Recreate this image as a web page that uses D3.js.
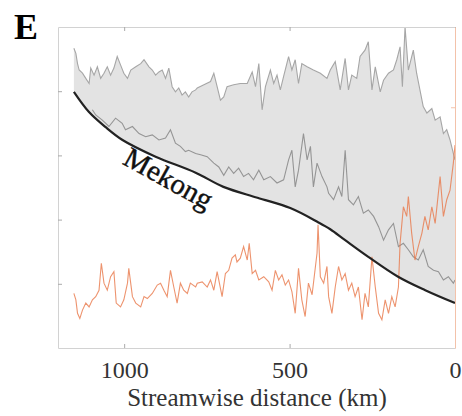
<!DOCTYPE html>
<html>
<head>
<meta charset="utf-8">
<script src="https://cdn.jsdelivr.net/npm/d3@7"></script>
<style>
  body { margin: 0; background: #fff; }
  text { font-family: "Liberation Serif", "DejaVu Serif", serif; }
</style>
</head>
<body>
<div id="chart"></div>
<script>
// streamwise distance (km) and values
const meanKm   = [1096,1086,1066,1046,1026,1006,996,975,955,935,915,895,875,860,845,830,815,805,784,769,749,729,714,699,684,669,654,639,624,609,593,578,558,538,518,503,493,483,473,458,447,437,428,417,402,387,382,367,352,342,332,322,307,292,277,262,246,231,216,201,186,171,156,141,126,111,96,81,65,50,35,20,5,0];
const meanVal  = [3.71,3.63,3.55,3.45,3.58,3.50,3.40,3.45,3.34,3.29,3.32,3.24,3.27,3.40,3.19,3.14,3.06,3.08,3.03,3.01,2.98,2.88,2.82,2.69,2.82,2.72,2.80,2.67,2.72,2.62,2.77,2.62,2.67,2.57,2.62,2.93,3.08,2.51,2.77,3.34,2.93,3.14,2.51,2.88,2.67,2.51,2.41,2.31,2.51,2.36,3.08,2.31,2.23,2.36,2.10,2.15,2.05,1.89,1.68,1.84,1.94,1.58,1.63,1.53,1.42,1.37,1.53,1.27,1.21,1.19,1.06,1.11,1.01,1.06];

const maxKm    = [1152,1146,1141,1136,1126,1116,1106,1101,1091,1081,1071,1061,1051,1041,1031,1021,1011,1001,990,980,965,950,940,925,915,905,895,885,875,865,855,845,835,825,815,805,795,784,779,759,739,729,719,709,699,689,669,649,628,613,603,593,583,573,558,548,538,528,518,503,493,483,473,463,447,428,407,387,377,362,347,332,322,312,297,287,272,262,251,241,226,216,201,186,176,166,159,151,141,126,116,106,96,85,70,60,45,35,25,15,5,0];
const maxVal   = [4.67,4.59,4.43,4.33,4.28,4.20,4.12,4.36,4.25,4.38,4.20,4.28,4.38,4.25,4.36,4.54,4.41,4.28,4.20,4.33,4.38,4.43,4.49,4.38,4.33,4.25,4.30,4.33,4.20,4.36,4.07,3.99,4.05,3.94,3.99,3.91,3.99,4.02,4.05,4.10,4.15,4.28,4.07,3.86,3.91,4.07,4.10,4.12,4.12,4.30,4.07,4.43,3.71,4.07,4.33,4.12,4.25,4.02,4.23,4.54,4.33,4.49,4.12,4.43,4.38,4.33,4.28,4.20,4.33,4.46,4.02,4.51,4.02,4.25,4.20,4.54,4.64,4.77,4.02,4.38,3.99,4.17,4.28,4.33,4.49,4.69,4.07,5.00,4.33,4.64,4.28,4.02,3.76,3.66,3.73,3.55,3.60,3.34,3.40,3.24,3.03,2.93];

const mekongKm  = [1152,1107,1056,1005,905,784,700,597,498,414,377,332,262,172,90,0];
const mekongVal = [3.99,3.68,3.44,3.24,2.98,2.73,2.51,2.34,2.18,1.96,1.85,1.68,1.42,1.11,0.90,0.70];

const orangeKm  = [1152,1146,1141,1134,1126,1116,1106,1096,1086,1076,1069,1061,1051,1041,1031,1024,1011,1001,990,986,975,965,950,940,930,915,900,890,880,870,860,850,840,830,820,809,800,784,779,764,749,739,729,719,704,694,684,674,664,659,649,639,628,622,613,603,593,578,563,553,543,533,523,513,503,493,483,473,463,453,443,432,417,414,407,397,387,382,372,362,352,342,332,322,312,302,292,281,272,262,251,241,231,221,211,201,191,181,171,166,156,146,141,131,121,111,100,91,81,70,60,45,35,25,15,5,0];
const orangeVal = [0.85,0.75,0.54,0.46,0.59,0.70,0.64,0.75,0.80,0.90,1.32,1.01,0.90,1.11,1.19,0.70,0.64,0.75,1.01,1.24,0.80,0.70,0.64,0.80,0.77,0.85,0.98,1.01,0.90,0.80,1.21,0.95,0.70,1.01,0.90,0.85,1.01,0.95,1.01,1.03,0.95,1.06,0.90,1.19,0.80,1.16,1.21,1.40,1.45,1.34,1.40,1.58,1.37,1.63,1.16,1.21,1.06,1.11,1.03,0.90,1.21,1.06,1.14,0.98,1.06,0.88,0.54,1.24,0.75,0.49,1.01,0.83,1.48,1.92,1.11,1.01,1.27,0.80,0.54,0.95,1.27,1.06,1.16,0.90,1.01,0.80,0.95,0.44,0.85,0.64,1.42,0.95,0.54,0.44,0.75,0.54,0.80,0.64,0.95,1.63,2.20,2.05,2.36,1.79,1.37,1.58,1.79,2.05,1.84,2.20,1.94,2.67,2.05,2.31,2.46,2.88,3.16];

const xTicks = [1000, 500, 0];
const yTicks = [1, 2, 3, 4];

const svgWidth = 462, svgHeight = 416;
const margin = { top: 27, right: 7, bottom: 68, left: 58 };
const width = svgWidth - margin.left - margin.right;
const height = svgHeight - margin.top - margin.bottom;

const svg = d3.select('#chart').append('svg')
    .attr('width', svgWidth)
    .attr('height', svgHeight)
    .append('g')
    .attr('transform', `translate(${margin.left},${margin.top})`);

const x = d3.scaleLinear().domain([1200, 0]).range([0, width]);
const y = d3.scaleLinear().domain([0, 5]).range([height, 0]);
// right axis (orange), only one tick shows
const yR = d3.scaleLinear().domain([0, 4]).range([height, 0]);

const zip = (ks, vs) => ks.map((k, i) => ({ km: k, v: vs[i] }));
const maxPts = zip(maxKm, maxVal);
const meanPts = zip(meanKm, meanVal);
const mekPts = zip(mekongKm, mekongVal);
const orPts = zip(orangeKm, orangeVal);

const line = d3.line().x(d => x(d.km)).y(d => y(d.v));
const smooth = d3.line().x(d => x(d.km)).y(d => y(d.v)).curve(d3.curveCatmullRom);

// grey band between max line and Mekong profile
const bandPath = line(maxPts) + 'L' + smooth(mekPts.slice().reverse()).slice(1) + 'Z';
svg.append('path')
    .attr('d', bandPath)
    .attr('fill', '#e3e3e3')
    .attr('stroke', 'none');

svg.append('path')
    .attr('d', line(maxPts))
    .attr('fill', 'none')
    .attr('stroke', '#a6a6a6')
    .attr('stroke-width', 1.1);

svg.append('path')
    .attr('d', line(meanPts))
    .attr('fill', 'none')
    .attr('stroke', '#959595')
    .attr('stroke-width', 1.1);

svg.append('path')
    .attr('d', line(orPts))
    .attr('fill', 'none')
    .attr('stroke', '#e8784a')
    .attr('stroke-opacity', 0.8)
    .attr('stroke-width', 1.1);

svg.append('path')
    .attr('d', smooth(mekPts))
    .attr('fill', 'none')
    .attr('stroke', '#222')
    .attr('stroke-width', 2.2);

// box + ticks (inward)
const boxColor = '#d2d2d2';
const bottomAxis = svg.append('g')
    .attr('transform', `translate(0,${height})`)
    .call(d3.axisBottom(x).tickValues(xTicks).tickFormat(d3.format('d'))
        .tickSizeInner(-4).tickSizeOuter(0).tickPadding(13));
const topAxis = svg.append('g')
    .call(d3.axisTop(x).tickValues(xTicks).tickSizeInner(-4).tickSizeOuter(0).tickFormat(''));
const leftAxis = svg.append('g')
    .call(d3.axisLeft(y).tickValues(yTicks).tickSizeInner(-4).tickSizeOuter(0).tickFormat(''));
const rightAxis = svg.append('g')
    .attr('transform', `translate(${width},0)`)
    .call(d3.axisRight(yR).tickValues([3]).tickSizeInner(-4).tickSizeOuter(0).tickFormat(''));

[bottomAxis, topAxis, leftAxis].forEach(g => {
    g.select('.domain').attr('stroke', boxColor);
    g.selectAll('.tick line').attr('stroke', '#aaa');
});
rightAxis.select('.domain').attr('stroke', '#f3c2aa');
rightAxis.selectAll('.tick line').attr('stroke', '#f3c2aa');

bottomAxis.selectAll('text')
    .attr('font-size', 24)
    .attr('fill', '#333');

svg.append('text')
    .attr('x', width / 2 + 0.5)
    .attr('y', height + 58)
    .attr('text-anchor', 'middle')
    .attr('font-size', 25)
    .attr('fill', '#333')
    .text('Streamwise distance (km)');

svg.append('text')
    .attr('transform', `translate(${x(880)},${y(2.51)}) rotate(29)`)
    .attr('text-anchor', 'middle')
    .attr('font-size', 29)
    .attr('fill', '#111')
    .attr('stroke', '#111')
    .attr('stroke-width', 0.4)
    .text('Mekong');

svg.append('text')
    .attr('x', -margin.left + 14)
    .attr('y', 12)
    .attr('font-size', 36)
    .attr('font-weight', 'bold')
    .text('E');
</script>
</body>
</html>
